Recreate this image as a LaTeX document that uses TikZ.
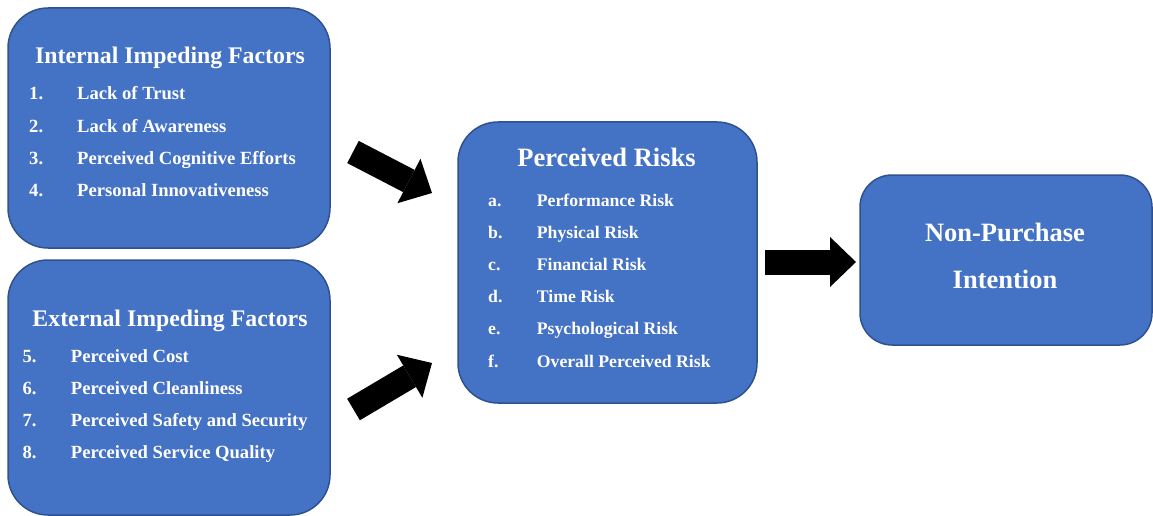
\documentclass[tikz,border=0pt]{standalone}
\usepackage{fontspec}
\setmainfont{Liberation Serif}
\usetikzlibrary{arrows.meta}
\definecolor{boxblue}{HTML}{4472C4}
\definecolor{boxline}{HTML}{2F528F}

\begin{document}
\begin{tikzpicture}[x=1pt, y=-1pt,
  box/.style={draw=boxline, fill=boxblue, line width=1.5pt, rounded corners=40pt},
  head/.style={text=white, font=\bfseries\fontsize{23.8}{28}\selectfont, anchor=base, inner sep=0pt},
  bighead/.style={head, font=\bfseries\fontsize{26.5}{30}\selectfont},
  item/.style={text=white, font=\bfseries\fontsize{18.6}{22}\selectfont, anchor=base west, inner sep=0pt},
  riskitem/.style={item, font=\bfseries\fontsize{17.7}{21}\selectfont},
  blockarrow/.style={line width=25pt, -{Triangle[length=26pt, width=50pt, line width=0pt]}}]
\useasboundingbox (0,0) rectangle (1153,516);
\clip (0,0) rectangle (1153,516);

% Internal impeding factors
\node[box, minimum width=322pt, minimum height=240pt] (int) at (169,128) {};
\node[head] (inthead) at (170,64) {Internal Impeding Factors};
\foreach \nr/\lbl [count=\i] in {1/Lack of Trust, 2/Lack of Awareness,
    3/Perceived Cognitive Efforts, 4/Personal Innovativeness} {
  \node[item] (intnr\i) at (29,{100+32.3*(\i-1)}) {\nr.};
  \node[item] (int\i) at (77,{100+32.3*(\i-1)}) {\lbl};
}

% External impeding factors
\node[box, minimum width=322pt, minimum height=255pt] (ext) at (169,387.5) {};
\node[head] (exthead) at (170,326.7) {External Impeding Factors};
\foreach \nr/\lbl [count=\i] in {5/Perceived Cost, 6/Perceived Cleanliness,
    7/Perceived Safety and Security, 8/Perceived Service Quality} {
  \node[item] (extnr\i) at (22.5,{362.3+32.2*(\i-1)}) {\nr.};
  \node[item] (ext\i) at (70.7,{362.3+32.2*(\i-1)}) {\lbl};
}

% Perceived risks
\node[box, minimum width=299pt, minimum height=281pt] (risk) at (607.5,262.5) {};
\node[bighead] (riskhead) at (606.5,166.7) {Perceived Risks};
\foreach \nr/\lbl [count=\i] in {a/Performance Risk, b/Physical Risk, c/Financial Risk,
    d/Time Risk, e/Psychological Risk, f/Overall Perceived Risk} {
  \node[riskitem] (risknr\i) at (488,{206+32.2*(\i-1)}) {\nr.};
  \node[riskitem] (risk\i) at (536.7,{206+32.2*(\i-1)}) {\lbl};
}

% Non-purchase intention
\node[box, rounded corners=32pt, minimum width=292pt, minimum height=170pt] (npi) at (1006,260) {};
\node[bighead] (npihead) at (1005,241.7) {Non-Purchase};
\node[bighead] (npihead2) at (1005,288.3) {Intention};

% Block arrows
\coordinate (intout) at (353,152);
\coordinate (intin) at (432,193);
\coordinate (extout) at (353.5,409.5);
\coordinate (extin) at (432,363);
\coordinate (riskout) at (765,262);
\coordinate (npiin) at (856,262);
\draw[blockarrow] (intout) -- (intin);
\draw[blockarrow] (extout) -- (extin);
\draw[blockarrow] (riskout) -- (npiin);
\end{tikzpicture}
\end{document}
